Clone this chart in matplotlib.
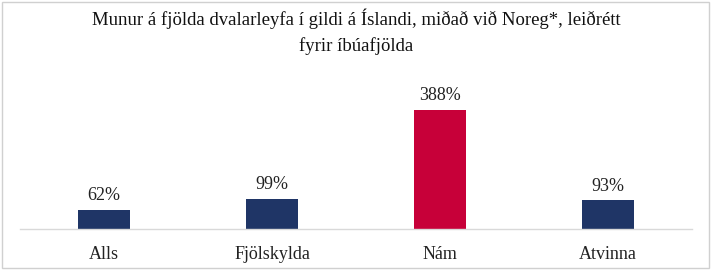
import matplotlib.pyplot as plt
from matplotlib.patches import Rectangle

categories = ['Alls', 'Fjölskylda', 'Nám', 'Atvinna']
values = [62, 99, 388, 93]
bar_colors = ['#1f3566', '#1f3566', '#c70039', '#1f3566']

plt.rcParams['font.family'] = ['Liberation Serif', 'DejaVu Serif']

fig = plt.figure(figsize=(7.13, 2.73), dpi=100)
ax = fig.add_axes([20 / 713, 44 / 273, 672 / 713, 140 / 273])

x = range(len(categories))
bars = ax.bar(x, values, width=0.31, color=bar_colors)
for b, v in zip(bars, values):
    ax.annotate('{}%'.format(v), (b.get_x() + b.get_width() / 2, v),
                xytext=(0, 4), textcoords='offset points',
                ha='center', va='bottom', fontsize=13, color='#222222')

ax.set_xlim(-0.5, 3.5)
ax.set_ylim(0, 455)
ax.set_xticks(list(x))
ax.set_xticklabels(categories, fontsize=13, color='#222222')
ax.tick_params(axis='x', length=0, pad=12)
ax.set_yticks([])
for s in ['top', 'right', 'left']:
    ax.spines[s].set_visible(False)
ax.spines['bottom'].set_color('#d9d9d9')
ax.spines['bottom'].set_linewidth(1)

fig.text(0.5, 1 - 32 / 273,
         'Munur á fjölda dvalarleyfa í gildi á Íslandi, miðað við Noreg*, leiðrétt\nfyrir íbúafjölda',
         ha='center', va='center', fontsize=13.5, linespacing=1.55, color='#111111')

fig.patches.append(Rectangle((2 / 713, 5 / 273), 707 / 713, 266 / 273,
                             transform=fig.transFigure, fill=False,
                             edgecolor='#d0d0d0', linewidth=1))

fig.savefig('out.png', dpi=100)
